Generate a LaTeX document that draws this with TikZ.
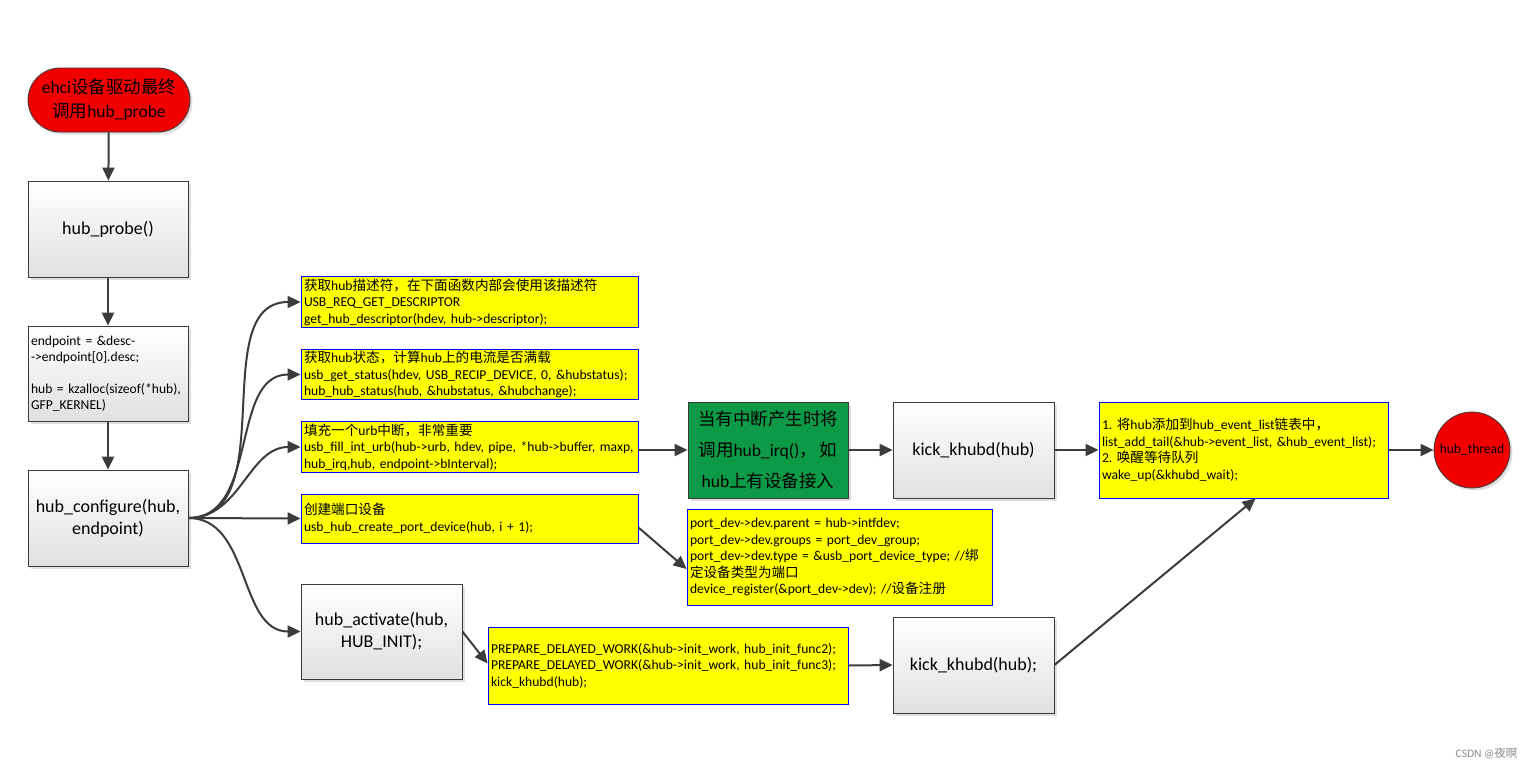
\documentclass[tikz,border=0pt]{standalone}
\usepackage{fontspec}
\setmainfont{Carlito}
\newfontfamily\cjk{Noto Sans CJK SC}
\newcommand\zh[1]{{\cjk #1}}
\newcommand\nb[1]{\mbox{#1}}
\usetikzlibrary{arrows.meta,shadows}
\definecolor{lineg}{HTML}{3C3C3C}
\definecolor{yelf}{HTML}{FFFF00}
\definecolor{blueb}{HTML}{0000FF}
\definecolor{redf}{HTML}{F20000}
\definecolor{greenf}{HTML}{0C9A46}
\definecolor{boxb}{HTML}{3A3A3A}
\tikzset{
  shad/.style={drop shadow={opacity=0.25,shadow xshift=2.5pt,shadow yshift=-2.5pt}},
  graybox/.style={draw=boxb, line width=0.8pt, top color=white, bottom color=black!12, shad,
    align=center, font=\fontsize{18}{22}\selectfont, inner sep=3pt},
  ybox/.style={draw=blueb, fill=yelf, line width=0.9pt, align=left,
    font=\fontsize{13.6}{16.5}\selectfont, inner xsep=3pt, inner ysep=2pt},
  conn/.style={draw=lineg, line width=2pt, -{Triangle[length=13pt,width=12pt]}},
}
\begin{document}
\begin{tikzpicture}[x=1pt,y=-1pt]
\useasboundingbox[fill=white] (0,0) rectangle (1536,769);

% left column
\node[draw=boxb, line width=0.8pt, fill=redf, shad, rounded corners=32pt,
  minimum width=162pt, minimum height=64pt, align=center,
  font=\fontsize{17.5}{24}\selectfont] (start) at (109,100)
  {ehci\zh{设备驱动最终}\\\zh{调用}hub\_probe};
\node[graybox, minimum width=160pt, minimum height=96pt] (probe) at (108,229) {hub\_probe()};
\node[graybox, minimum width=160pt, minimum height=95pt, align=left, text width=154pt,
  font=\fontsize{13.6}{16}\selectfont] (ep) at (108,373.5)
  {\nb{endpoint = \&desc-}\\\nb{->endpoint[0].desc;}\\\mbox{}\\\nb{hub = kzalloc(sizeof(*hub),}\\\nb{GFP\_KERNEL)}};
\node[graybox, minimum width=160pt, minimum height=96pt] (cfg) at (108,518) {hub\_configure(hub,\\endpoint)};

% yellow column
\node[ybox, minimum width=337pt, minimum height=48pt, text width=331pt] (y1) at (469.5,302)
  {\nb{\zh{获取}hub\zh{描述符，在下面函数内部会使用该描述符}}\\\nb{USB\_REQ\_GET\_DESCRIPTOR}\\\nb{get\_hub\_descriptor(hdev, hub->descriptor);}};
\node[ybox, minimum width=337pt, minimum height=49pt, text width=331pt] (y2) at (469.5,374.5)
  {\nb{\zh{获取}hub\zh{状态，计算}hub\zh{上的电流是否满载}}\\\nb{usb\_get\_status(hdev, USB\_RECIP\_DEVICE, 0, \&hubstatus);}\\\nb{hub\_hub\_status(hub, \&hubstatus, \&hubchange);}};
\node[ybox, minimum width=337pt, minimum height=50pt, text width=331pt] (y3) at (469.5,447)
  {\nb{\zh{填充一个}urb\zh{中断，非常重要}}\\\nb{usb\_fill\_int\_urb(hub->urb, hdev, pipe, *hub->buffer, maxp,}\\\nb{hub\_irq,hub, endpoint->bInterval);}};
\node[ybox, minimum width=337pt, minimum height=49pt, text width=331pt] (y4) at (469.5,518.5)
  {\nb{\zh{创建端口设备}}\\\nb{usb\_hub\_create\_port\_device(hub, i + 1);}};
\node[graybox, minimum width=161pt, minimum height=95pt] (act) at (381.5,631.5) {hub\_activate(hub,\\HUB\_INIT);};

% middle
\node[draw=boxb, line width=0.8pt, fill=greenf, shad, minimum width=160pt, minimum height=96pt,
  align=center, font=\fontsize{17.5}{31}\selectfont] (irq) at (768,450)
  {\zh{当有中断产生时将}\\\zh{调用}hub\_irq()\zh{，\,如}\\hub\zh{上有设备接入}};
\node[graybox, minimum width=161pt, minimum height=96pt] (kick1) at (973.5,450) {kick\_khubd(hub)};
\node[ybox, minimum width=305pt, minimum height=96pt, text width=299pt] (pd) at (839.5,557)
  {\nb{port\_dev->dev.parent = hub->intfdev;}\\\nb{port\_dev->dev.groups = port\_dev\_group;}\\\nb{port\_dev->dev.type = \&usb\_port\_device\_type; //\zh{绑}}\\\nb{\zh{定设备类型为端口}}\\\nb{device\_register(\&port\_dev->dev); //\zh{设备注册}}};
\node[ybox, minimum width=360pt, minimum height=77pt, text width=354pt] (prep) at (668,665.5)
  {\nb{PREPARE\_DELAYED\_WORK(\&hub->init\_work, hub\_init\_func2);}\\\nb{PREPARE\_DELAYED\_WORK(\&hub->init\_work, hub\_init\_func3);}\\\nb{kick\_khubd(hub);}};
\node[graybox, minimum width=161pt, minimum height=96pt] (kick2) at (973.5,665) {kick\_khubd(hub);};

% right
\node[ybox, minimum width=289pt, minimum height=96pt, text width=283pt] (y5) at (1243.5,450)
  {\nb{1.\ \zh{将}hub\zh{添加到}hub\_event\_list\zh{链表中，}}\\\nb{list\_add\_tail(\&hub->event\_list, \&hub\_event\_list);}\\\nb{2.\ \zh{唤醒等待队列}}\\\nb{wake\_up(\&khubd\_wait);}};
\node[circle, draw=boxb, line width=0.8pt, fill=redf, shad, minimum size=76pt, inner sep=0pt,
  font=\fontsize{13.5}{16}\selectfont] (thr) at (1472,450) {hub\_thread};

\node[text=black!45, font=\fontsize{11.5}{14}\selectfont, anchor=east] (wm) at (1521,753)
  {CSDN @\zh{夜暝}};

% connectors
\draw[conn] (start) -- (probe);
\draw[conn] (probe) -- (ep);
\draw[conn] (ep) -- (cfg);
\draw[conn] (cfg.east) to[out=0,in=180] (y1.west);
\draw[conn] (cfg.east) to[out=0,in=180] (y2.west);
\draw[conn] (cfg.east) to[out=0,in=180] (y3.west);
\draw[conn] (cfg.east) -- (y4.west);
\draw[conn] (cfg.east) to[out=0,in=180] (act.west);
\draw[conn] ([yshift=-3pt]y3.east) -- (irq.west);
\draw[conn] (irq) -- (kick1);
\draw[conn] (kick1) -- (y5);
\draw[conn] (y5) -- (thr);
\draw[conn] ([yshift=-9pt]y4.east) -- ([yshift=-12pt]pd.west);
\draw[conn] (act.east) -- ([yshift=2pt]prep.west);
\draw[conn] (prep.east) -- (kick2.west);
\draw[conn] (kick2.east) -- ([xshift=12pt]y5.south);
\end{tikzpicture}
\end{document}
